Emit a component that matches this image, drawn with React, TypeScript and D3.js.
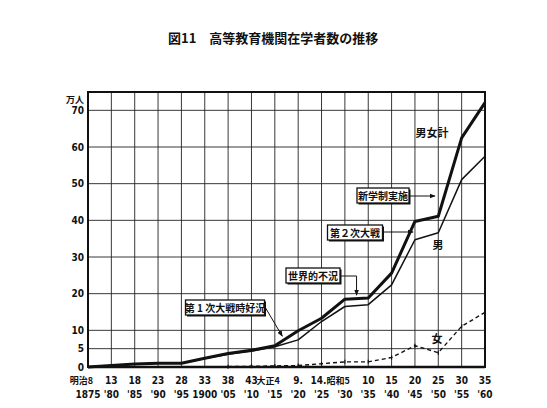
import * as d3 from 'd3'

// 年次（5年おき）
const years = [1875, 1880, 1885, 1890, 1895, 1900, 1905, 1910, 1915, 1920, 1925, 1930, 1935, 1940, 1945, 1950, 1955, 1960]
// 男女計（万人）
const totalValues = [0, 0.4, 0.8, 1.0, 1.0, 2.4, 3.7, 4.6, 5.8, 9.9, 13.3, 18.5, 18.8, 25.6, 39.7, 41.1, 62.5, 72.1]
// 男（万人）
const maleValues = [0, 0.4, 0.8, 1.0, 1.0, 2.3, 3.5, 4.3, 5.5, 7.4, 12.4, 16.5, 17.0, 22.4, 34.7, 36.6, 51.1, 57.5]
// 女（万人）
const femaleYears = [1905, 1910, 1915, 1920, 1925, 1930, 1935, 1940, 1945, 1950, 1955, 1960]
const femaleValues = [0.1, 0.2, 0.3, 0.4, 0.9, 1.4, 1.4, 2.6, 5.8, 3.9, 11.1, 14.9]

const yTicks = [0, 5, 10, 20, 30, 40, 50, 60, 70]
const eraLabels = ['明治8', '13', '18', '23', '28', '33', '38', '43', '大正4', '9.', '14.', '昭和5', '10', '15', '20', '25', '30', '35']
const westernLabels = ['1875', "'80", "'85", "'90", "'95", '1900', "'05", "'10", "'15", "'20", "'25", "'30", "'35", "'40", "'45", "'50", "'55", "'60"]

const jp = '"Noto Sans CJK JP", sans-serif'
const num = '"DejaVu Sans Condensed", "DejaVu Sans", sans-serif'

export default function App() {
  const width = 547
  const height = 408

  const x = d3.scaleLinear().domain([1875, 1960]).range([88, 485])
  const y = d3.scaleLinear().domain([0, 75]).range([367, 92])

  const line = d3.line<[number, number]>().x(d => x(d[0])).y(d => y(d[1]))
  const totalPath = line(years.map((yr, i) => [yr, totalValues[i]]))
  const malePath = line(years.map((yr, i) => [yr, maleValues[i]]))
  const femalePath = line(femaleYears.map((yr, i) => [yr, femaleValues[i]]))

  // 注記ボックス
  const box = (cx: number, cy: number, w: number, label: string) => (
    <g key={label}>
      <rect x={cx - w / 2 + 1.5} y={cy - 7 + 1.5} width={w} height={15} fill="#111" />
      <rect x={cx - w / 2} y={cy - 7} width={w} height={15} fill="#fff" stroke="#111" strokeWidth={1.3} />
      <text x={cx} y={cy + 4.5} textAnchor="middle" fontFamily={jp} fontWeight="bold" fontSize={10} fill="#111">{label}</text>
    </g>
  )

  return (
    <svg width={width} height={height} style={{ position: 'absolute', left: 0, top: 0, background: '#fff' }}>
      <defs>
        <marker id="arr" viewBox="0 0 10 10" refX="9" refY="5" markerWidth="6" markerHeight="6" orient="auto-start-reverse">
          <path d="M0,1 L10,5 L0,9 z" fill="#111" />
        </marker>
      </defs>

      {/* タイトル */}
      <text x={168} y={43} fontFamily={jp} fontWeight="bold" fontSize={13} fill="#111">
        図11　高等教育機関在学者数の推移
      </text>

      {/* 格子 */}
      {years.map(yr => (
        <line key={'v' + yr} x1={x(yr)} x2={x(yr)} y1={y(75)} y2={y(0)} stroke="#222" strokeWidth={0.9} />
      ))}
      {yTicks.map(t => (
        <line key={'h' + t} x1={x(1875)} x2={x(1960)} y1={y(t)} y2={y(t)} stroke="#222" strokeWidth={0.9} />
      ))}
      <rect x={x(1875)} y={y(75)} width={x(1960) - x(1875)} height={y(0) - y(75)} fill="none" stroke="#111" strokeWidth={2} />
      <line x1={x(1875)} x2={x(1960)} y1={y(0)} y2={y(0)} stroke="#111" strokeWidth={2.5} />

      {/* 縦軸目盛 */}
      {yTicks.map(t => (
        <text key={'yt' + t} x={84} y={y(t) + 3.5} textAnchor="end" fontFamily={num} fontWeight="bold" fontSize={10} fill="#111">{t}</text>
      ))}
      <text x={84} y={y(70) - 7} textAnchor="end" fontFamily={jp} fontWeight="bold" fontSize={9} fill="#111">万人</text>

      {/* 横軸目盛 */}
      {years.map((yr, i) => {
        const lab = eraLabels[i]
        const isEra = /[^0-9.]/.test(lab)
        const shifted = isEra || lab.endsWith('.') && lab.length > 2
        return (
          <text key={'xe' + yr} x={shifted ? x(yr) + 5 : x(yr)} y={384} textAnchor={shifted ? 'end' : 'middle'}
            fontFamily={isEra ? jp : num} fontWeight="bold" fontSize={isEra ? 9 : 10} fill="#111">{lab}</text>
        )
      })}
      {years.map((yr, i) => (
        <text key={'xw' + yr} x={x(yr)} y={398} textAnchor="middle" fontFamily={num} fontWeight="bold" fontSize={10} fill="#111">{westernLabels[i]}</text>
      ))}

      {/* 系列 */}
      <path d={femalePath || ''} fill="none" stroke="#111" strokeWidth={1.4} strokeDasharray="4,3" />
      {femaleYears.map((yr, i) => (
        <line key={'fm' + yr} x1={x(yr)} x2={x(yr)} y1={y(femaleValues[i]) - 2} y2={y(femaleValues[i]) + 2} stroke="#111" strokeWidth={1.2} />
      ))}
      <path d={malePath || ''} fill="none" stroke="#111" strokeWidth={1.5} strokeLinejoin="round" />
      <path d={totalPath || ''} fill="none" stroke="#111" strokeWidth={3} strokeLinejoin="round" />

      {/* 系列ラベル */}
      <text x={432} y={137} textAnchor="middle" fontFamily={jp} fontWeight="bold" fontSize={11} fill="#111">男女計</text>
      <text x={438} y={249} textAnchor="middle" fontFamily={jp} fontWeight="bold" fontSize={11} fill="#111">男</text>
      <text x={437} y={343} textAnchor="middle" fontFamily={jp} fontWeight="bold" fontSize={11} fill="#111">女</text>

      {/* 注記 */}
      <line x1={265} y1={307} x2={x(1916.6)} y2={y(8.4)} stroke="#111" strokeWidth={1} markerEnd="url(#arr)" />
      {box(225, 307, 79, '第 1 次大戦時好況')}

      <polyline points={`339,276 ${x(1932.5)},276 ${x(1932.5)},${y(19.6)}`} fill="none" stroke="#111" strokeWidth={1} markerEnd="url(#arr)" />
      {box(313, 275, 54, '世界的不況')}

      <line x1={382} y1={232} x2={x(1944.6)} y2={232} stroke="#111" strokeWidth={1} markerEnd="url(#arr)" />
      {box(355, 232, 55, '第２次大戦')}

      <line x1={409} y1={196} x2={x(1949.3)} y2={196} stroke="#111" strokeWidth={1} markerEnd="url(#arr)" />
      {box(383, 195, 52, '新学制実施')}
    </svg>
  )
}
